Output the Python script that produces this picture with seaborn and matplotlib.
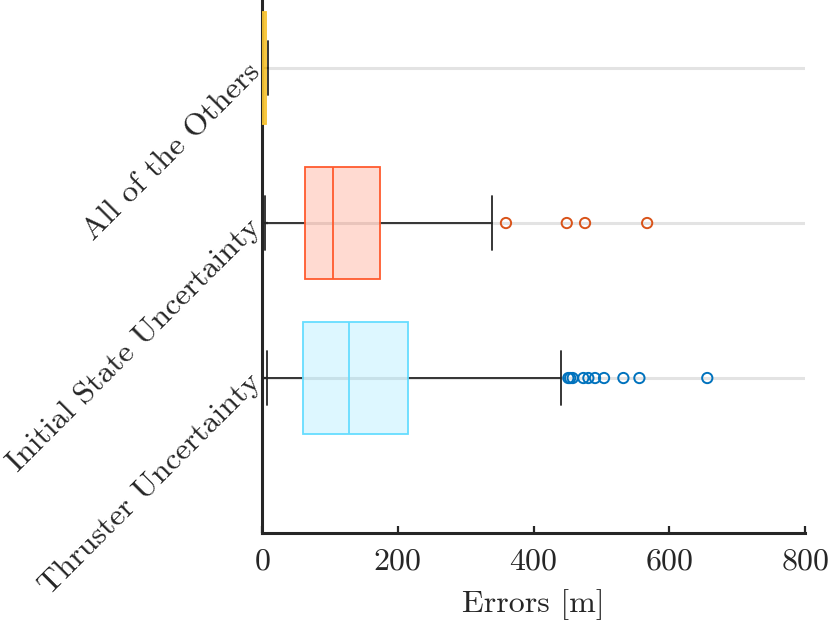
import numpy as np
import pandas as pd
import matplotlib
matplotlib.use('Agg')
import matplotlib.pyplot as plt
import seaborn as sns

# box summary values (errors in metres)
groups = ['All of the Others', 'Initial State Uncertainty', 'Thruster Uncertainty']
whis_lo = [0.0, 4.4, 7.9]
q1 = [0.5, 63.4, 60.9]
median = [3.0, 105.0, 128.7]
q3 = [6.0, 174.0, 215.6]
whis_hi = [8.5, 338.8, 440.0]

# outliers
init_fliers = [359.4, 449.0, 475.9, 567.4]
thr_fliers = [451.3, 454.0, 457.7, 473.4, 480.8, 490.6, 503.9, 532.4, 556.0, 656.0]

edge_cols = ['#F7C331', '#FF5A2E', '#66DDFF']
flier_cols = {'Initial State Uncertainty': '#D95319', 'Thruster Uncertainty': '#0072BD'}


def main():
    sns.set_theme(style='white')
    plt.rcParams['font.family'] = ['cmr10', 'DejaVu Serif']
    plt.rcParams['axes.formatter.use_mathtext'] = True
    plt.rcParams['mathtext.fontset'] = 'cm'

    fig = plt.figure(figsize=(8.3, 6.2), dpi=100)
    ax = fig.add_axes([0.3157, 0.1403, 0.6542, 0.8597])

    fliers = pd.DataFrame({
        'group': ['Initial State Uncertainty'] * len(init_fliers) + ['Thruster Uncertainty'] * len(thr_fliers),
        'error': init_fliers + thr_fliers,
    })
    sns.stripplot(data=fliers, x='error', y='group', order=groups, hue='group',
                  palette=flier_cols, jitter=False, size=7.4, linewidth=0,
                  legend=False, ax=ax, zorder=4)
    for coll in ax.collections:
        fc = coll.get_facecolor()
        coll.set_edgecolor(fc)
        coll.set_facecolor('none')
        coll.set_linewidth(1.4)

    stats = []
    for i, g in enumerate(groups):
        stats.append({'label': g, 'whislo': whis_lo[i], 'q1': q1[i], 'med': median[i],
                      'q3': q3[i], 'whishi': whis_hi[i], 'fliers': []})
    bp = ax.bxp(stats, positions=[0, 1, 2], widths=0.72, orientation='horizontal',
                patch_artist=True, showfliers=False, manage_ticks=False,
                capwidths=0.35,
                whiskerprops={'color': '#262626', 'linewidth': 1.3},
                capprops={'color': '#262626', 'linewidth': 1.3})
    for box, med, col in zip(bp['boxes'], bp['medians'], edge_cols):
        box.set_facecolor(matplotlib.colors.to_rgba(col, 0.22))
        box.set_edgecolor(col)
        box.set_linewidth(1.3)
        box.set_zorder(3)
        med.set_color(col)
        med.set_linewidth(1.3)
        med.set_zorder(3)

    ax.set_xlim(0, 800)
    ax.set_ylim(3.0, -0.439)
    ax.set_xticks([0, 200, 400, 600, 800])
    ax.set_yticks([0, 1, 2])
    ax.set_yticklabels(groups, rotation=45, ha='right', va='center', rotation_mode='anchor')
    ax.set_xlabel('Errors [m]', fontsize=23, labelpad=10)
    ax.set_ylabel('')

    ax.yaxis.grid(True, color='#E3E3E3', linewidth=2.2)
    ax.xaxis.grid(False)
    ax.set_axisbelow(True)

    for side in ['top', 'right']:
        ax.spines[side].set_visible(False)
    for side in ['left', 'bottom']:
        ax.spines[side].set_color('#262626')
        ax.spines[side].set_linewidth(2.2)
    ax.tick_params(axis='x', bottom=True, direction='in', length=5, width=1.6, color='#262626',
                   labelsize=23, pad=11, labelcolor='#262626')
    ax.tick_params(axis='y', left=True, direction='in', length=4, width=1.6, color='#262626',
                   labelsize=23, pad=4, labelcolor='#262626')
    ax.xaxis.label.set_color('#262626')

    fig.savefig('out.png', dpi=100)


main()
